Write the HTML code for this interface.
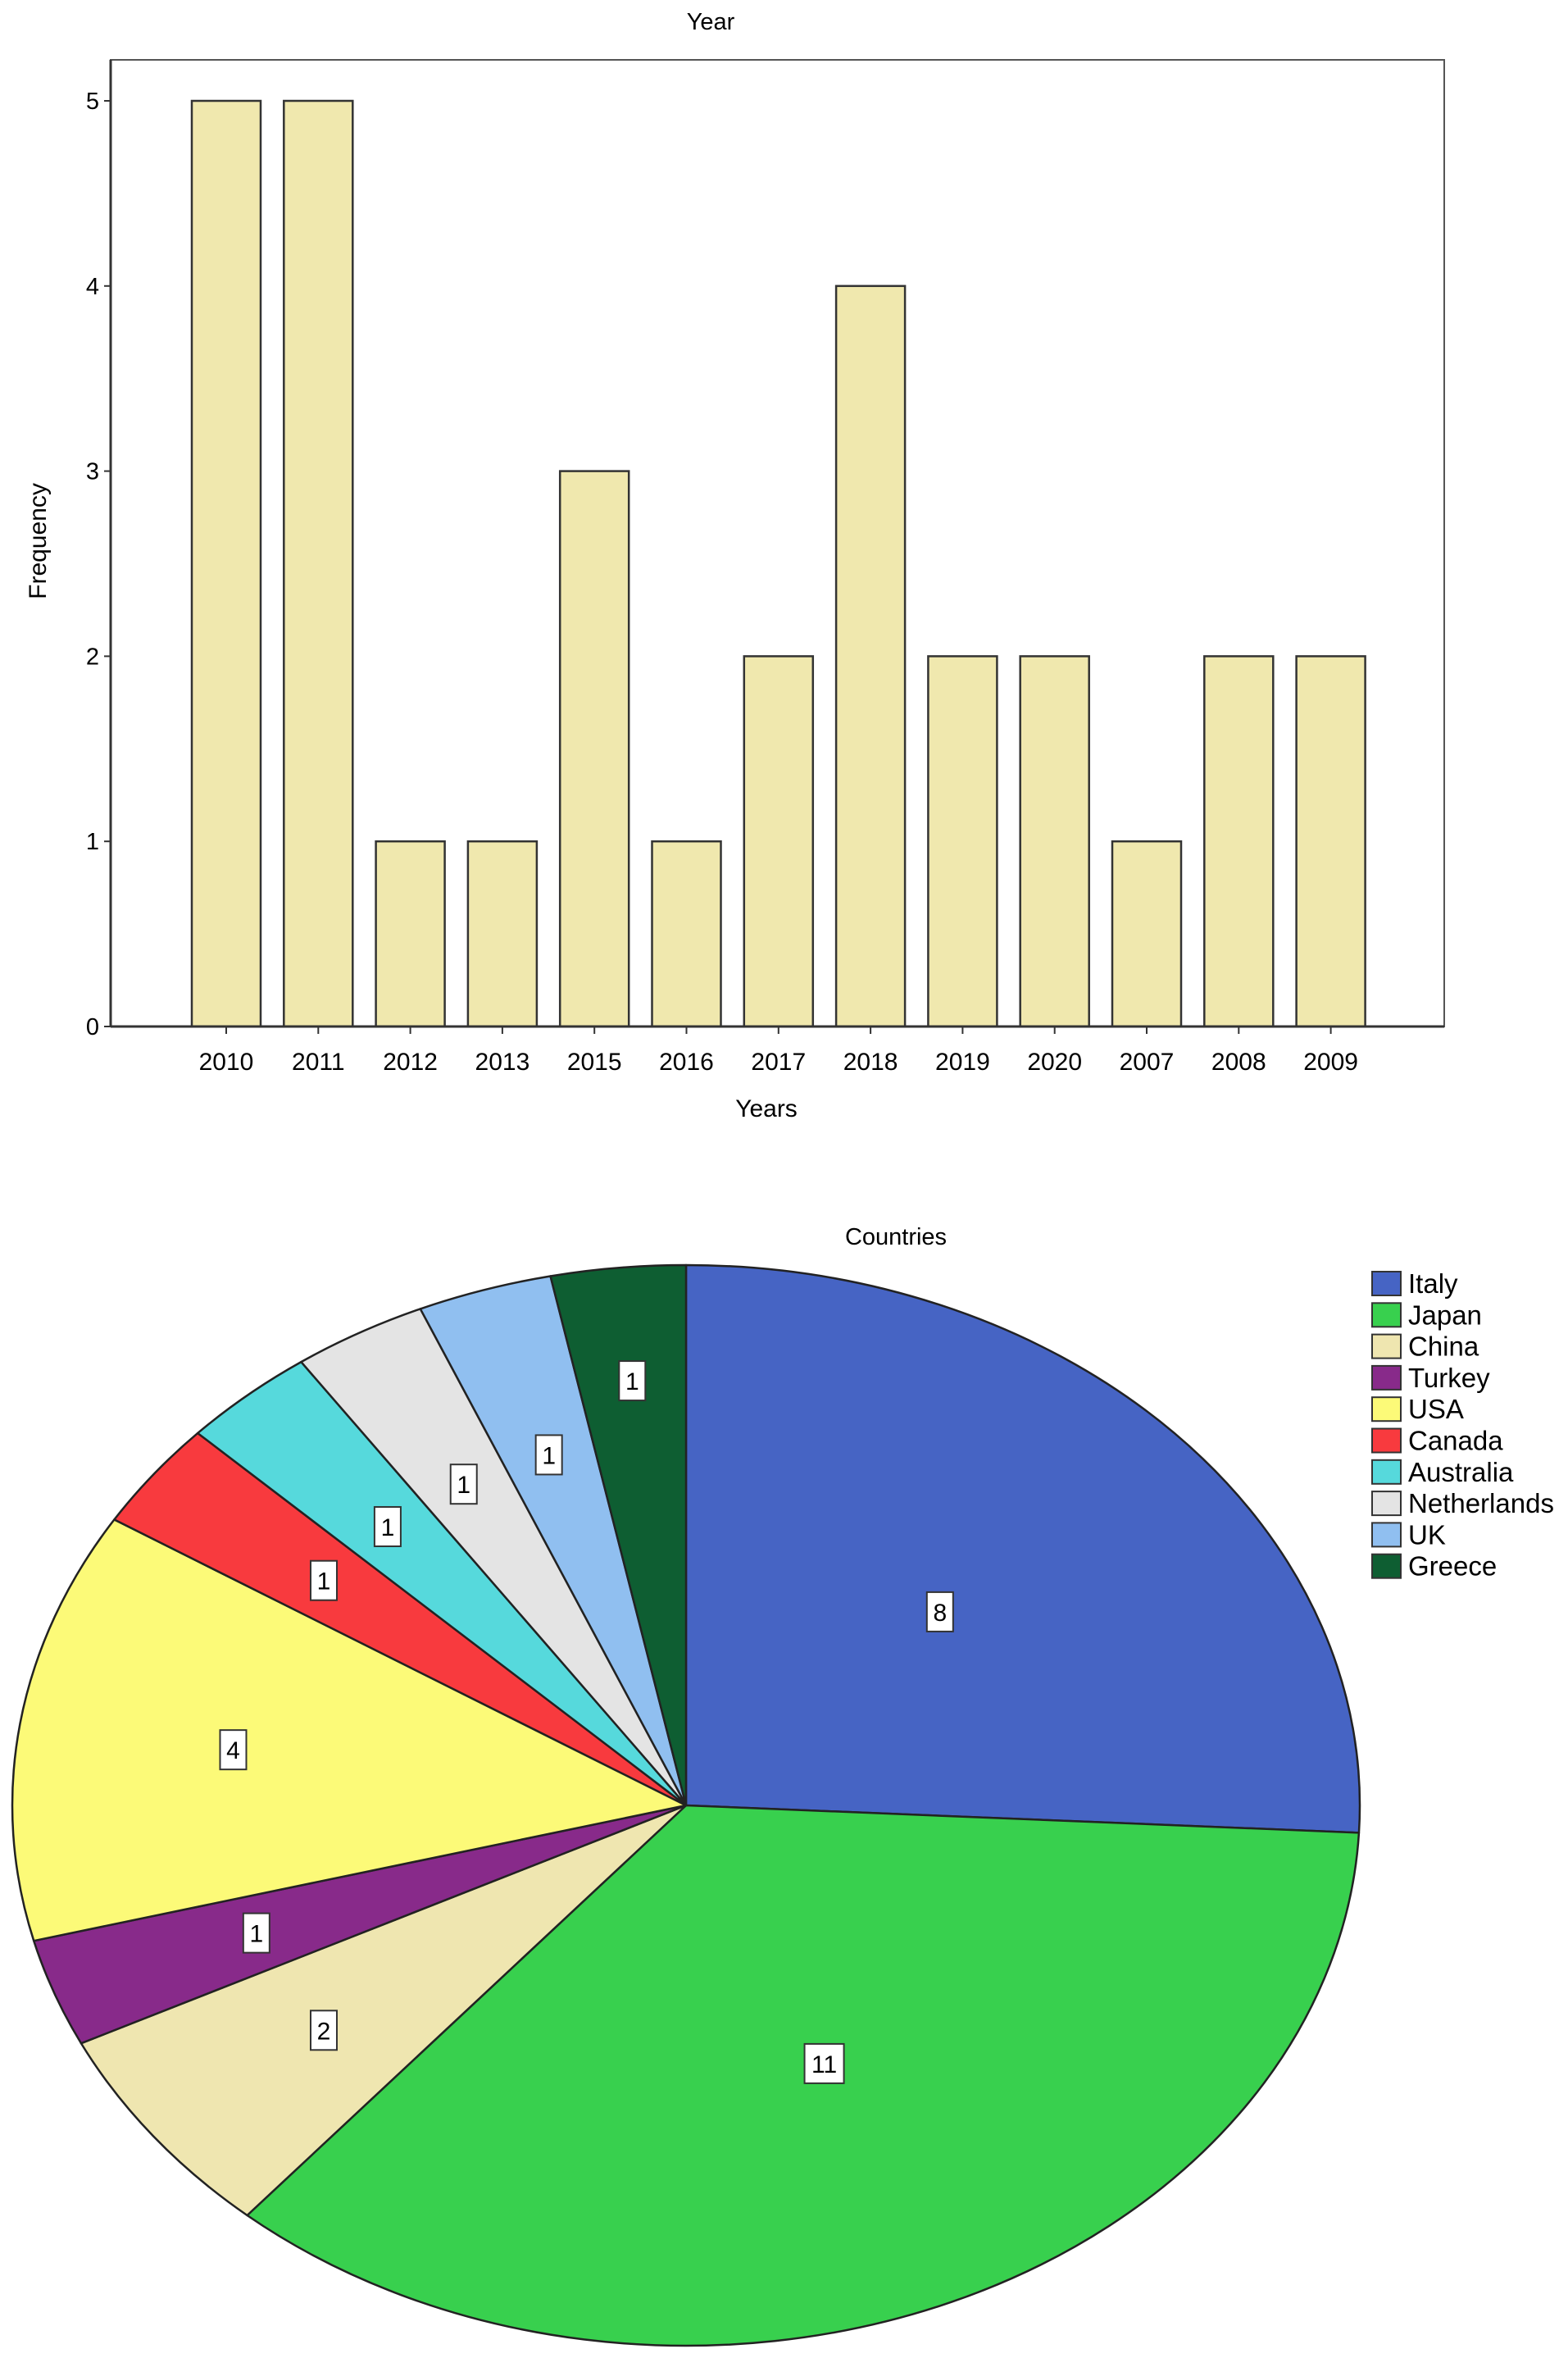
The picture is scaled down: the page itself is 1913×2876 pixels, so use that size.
<!DOCTYPE html>
<html><head><meta charset="utf-8"><style>
html,body{margin:0;padding:0;background:#fff}
svg{display:block;font-family:"Liberation Sans",Arial,sans-serif}
</style></head><body>
<svg id="root" width="1913" height="2876" viewBox="0 0 1913 2876">
<g id="bar"></g>
<g id="pie"></g>
</svg>
<script>
const years = ["2010","2011","2012","2013","2015","2016","2017","2018","2019","2020","2007","2008","2009"];
const freq = [5,5,1,1,3,1,2,4,2,2,1,2,2];
const yTicks = [0,1,2,3,4,5];
const countries = ["Italy","Japan","China","Turkey","USA","Canada","Australia","Netherlands","UK","Greece"];
const counts = [8,11,2,1,4,1,1,1,1,1];
const colors = ["#4664c4","#38d04e","#efe6b0","#882a8a","#fcfa78","#f83a3e","#56d9dc","#e4e4e4","#90bff0","#0e5e32"];

const NS="http://www.w3.org/2000/svg";
function mk(tag,attrs,parent,text){const e=document.createElementNS(NS,tag);for(const k in attrs)e.setAttribute(k,attrs[k]);if(text!==undefined)e.textContent=text;parent.appendChild(e);return e;}

// ---- bar chart
const bar=document.getElementById('bar');
const L=135,R=1762,T=73,B=1252;
const y0=B, unit=(B-123)/5;
const yS=v=>y0-v*unit;
const firstX=276, step=112.3, bw=84;
const xS=i=>firstX+i*step;
let e;
e=mk('rect',{x:L,y:T,width:R-L,height:B-T,fill:'#fff',stroke:'#555','stroke-width':2},bar);


e=mk('text',{x:867,y:36,'font-size':29,'text-anchor':'middle'},bar,'Year');


yTicks.forEach(t=>{
  const l=mk('line',{x1:L-8,x2:L,y1:yS(t),y2:yS(t),stroke:'#333','stroke-width':2},bar);
  
  
  const tx=mk('text',{x:L-14,y:yS(t)+10,'font-size':29,'text-anchor':'end'},bar,String(t));
  
  
});
years.forEach((yr,i)=>{
  const r=mk('rect',{x:xS(i)-bw/2,y:yS(freq[i]),width:bw,height:y0-yS(freq[i]),fill:'#f0e8ae',stroke:'#333','stroke-width':2.5},bar);
  
  
  const tk=mk('line',{x1:xS(i),x2:xS(i),y1:B,y2:B+9,stroke:'#333','stroke-width':2},bar);
  
  
  const tl=mk('text',{x:xS(i),y:1305,'font-size':30,'text-anchor':'middle'},bar,yr);
  
  
});
e=mk('line',{x1:L,x2:R,y1:B,y2:B,stroke:'#333','stroke-width':3},bar);


e=mk('line',{x1:L,x2:L,y1:T,y2:B,stroke:'#333','stroke-width':3},bar);


e=mk('text',{x:935,y:1362,'font-size':30,'text-anchor':'middle'},bar,'Years');


e=mk('text',{x:0,y:0,'font-size':30,'text-anchor':'middle',transform:'translate(56,660) rotate(-90)'},bar,'Frequency');



// ---- pie chart
const pie=document.getElementById('pie');
const cx=837, cy=2202, rx=822, ry=659;
const total=counts.reduce((a,b)=>a+b,0);
e=mk('text',{x:1093,y:1518,'font-size':29,'text-anchor':'middle'},pie,'Countries');


let acc=0;
const pt=(a,f)=>[cx+rx*f*Math.sin(a), cy-ry*f*Math.cos(a)];
const labels=[];
counts.forEach((v,i)=>{
  const a0=acc/total*2*Math.PI; acc+=v; const a1=acc/total*2*Math.PI;
  const p0=pt(a0,1), p1=pt(a1,1);
  const large=(a1-a0)>Math.PI?1:0;
  const s=mk('path',{d:`M${cx},${cy} L${p0[0]},${p0[1]} A${rx},${ry} 0 ${large} 1 ${p1[0]},${p1[1]} Z`,fill:colors[i],stroke:'#222','stroke-width':2.5,'stroke-linejoin':'round'},pie);
  
  
  labels.push([(a0+a1)/2, v]);
});
labels.forEach(([am,v],i)=>{
  const f=v>=8?0.52:(i===labels.length-1?0.79:0.68);
  const p=pt(am,f);
  const txt=String(v); const w=txt.length>1?48:32;
  const g=mk('g',{},pie);
  
  
  mk('rect',{x:p[0]-w/2,y:p[1]-24,width:w,height:48,fill:'#fff',stroke:'#333','stroke-width':2},g);
  mk('text',{x:p[0],y:p[1]+11,'font-size':30,'text-anchor':'middle'},g,txt);
});
// legend
const lg=mk('g',{},pie);


countries.forEach((c,i)=>{
  const yy=1565+i*38.3;
  const g=mk('g',{},lg);
  
  
  mk('rect',{x:1674,y:yy-14,width:35,height:29,fill:colors[i],stroke:'#333','stroke-width':2},g);
  mk('text',{x:1718,y:yy+12,'font-size':33},g,c);
});
</script>
</body></html>
